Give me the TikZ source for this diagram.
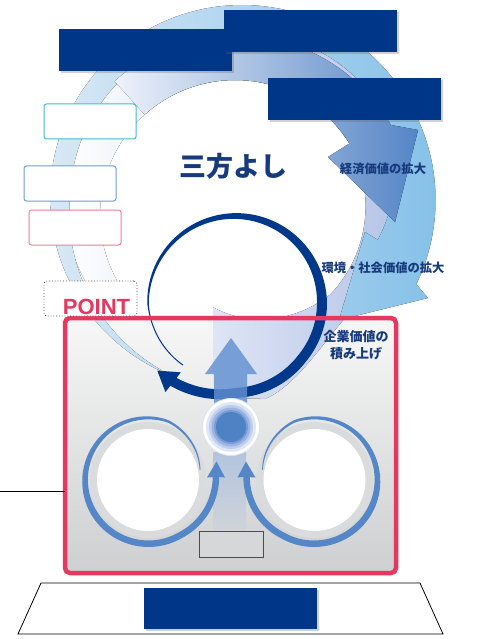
\documentclass[tikz,border=0pt]{standalone}
\usepackage{fontspec}
\setmainfont{Liberation Sans}
\newfontfamily\jp{Noto Sans CJK JP}
\usetikzlibrary{shadows}

\definecolor{navy}{RGB}{0,54,135}
\definecolor{navyarrow}{RGB}{0,56,140}
\definecolor{textnavy}{RGB}{22,58,124}
\definecolor{skyL}{RGB}{216,232,245}
\definecolor{skyM}{RGB}{196,222,242}
\definecolor{skyR}{RGB}{134,193,233}
\definecolor{lav}{RGB}{176,192,230}
\definecolor{lavpale}{RGB}{238,242,250}
\definecolor{arrowA}{RGB}{85,133,198}
\definecolor{pinkframe}{RGB}{230,55,95}
\definecolor{midblue}{RGB}{85,135,200}
\definecolor{upblue}{RGB}{98,144,208}
\definecolor{cyanline}{RGB}{64,188,207}
\definecolor{blueline}{RGB}{110,156,216}
\definecolor{pinkline}{RGB}{238,125,153}
\definecolor{boxtop}{RGB}{247,247,247}
\definecolor{boxbot}{RGB}{205,207,208}
\definecolor{coltop}{RGB}{178,196,222}
\definecolor{colbot}{RGB}{208,212,217}
\definecolor{ringgray}{RGB}{218,219,220}
\definecolor{smallfill}{RGB}{214,215,216}
\definecolor{coreedge}{RGB}{220,226,242}
\definecolor{coreA}{RGB}{223,230,246}
\definecolor{coreB}{RGB}{190,206,238}
\definecolor{coreC}{RGB}{155,180,226}
\definecolor{coreD}{RGB}{120,155,214}
\definecolor{coreE}{RGB}{79,129,197}

\tikzset{
  navybox/.style={fill=navy, minimum width=173pt, minimum height=42pt, inner sep=0pt,
    drop shadow={shadow xshift=2pt, shadow yshift=-2pt, opacity=.3, fill=black!60}},
  tagbox/.style={draw, fill=white, rounded corners=2.5pt, minimum width=92pt,
    minimum height=35pt, inner sep=0pt, line width=1pt},
  jplabel/.style={text=textnavy, font=\jp\bfseries\fontsize{12.3}{17}\selectfont, inner sep=0pt},
}

\begin{document}
\begin{tikzpicture}[x=1pt,y=-1pt,
  declare function={
    skyin(\t)= (\t<180) ? 191-19*(\t-115)/65 : ((\t<270) ? 172-7*(\t-180)/90 : ((\t<330) ? 165 : 165-22.6*(\t-330)/47.5));
    skyout(\t)= (\t<330) ? 192 : 192+3*(\t-330)/57;
    lavin(\t)= (\t<330) ? 135 : ((\t<400) ? 135-11*(\t-330)/70 : 124-29*(\t-400)/63);
    navyr(\t)= (\t<180) ? 81+6*(\t-130)/50 : ((\t<400) ? 87 : ((\t<450) ? 87+3*(\t-400)/50 : 90+10*(\t-450)/38));
    navyw(\t)= min(10, 1+9*max(0,\t-170)/190);
    ringr(\u)= (\u<60) ? 53+9*\u/60 : ((\u<290) ? 62+2*(\u-60)/230 : 64+4*(\u-290)/61.5);
    ringw(\u)= min(6.5, 0.8+5.7*\u/200);
  }]
\useasboundingbox (0,0) rectangle (478,639);

% ---- main panel background ----
\node[minimum width=331pt, minimum height=255pt, inner sep=0pt, outer sep=0pt,
      rounded corners=5pt, top color=boxtop, bottom color=boxbot] (frame) at (230.5,445.5) {};

% ---- inner lavender spiral band ----
\fill[left color=white, middle color=lav!28!white, right color=lav]
  plot[domain=145:395, samples=100, variable=\t] ({242+178*cos(\t)},{197+178*sin(\t)})
  -- (345,318) .. controls (318,350) and (295,385) .. (267,398) -- (213,400) -- (213,307)
  -- plot[domain=463:150, samples=120, variable=\t] ({235+lavin(\t)*cos(\t)},{215+lavin(\t)*sin(\t)})
  -- cycle;

% ---- outer sky spiral band ending in an arrowhead ----
\fill[left color=skyL, middle color=skyM, right color=skyR]
  plot[domain=115:386.6, samples=120, variable=\t] ({242+skyout(\t)*cos(\t)},{197+skyout(\t)*sin(\t)})
  -- (428,298) -- (339,320) -- (365,232)
  -- plot[domain=377.5:115, samples=120, variable=\t] ({242+skyin(\t)*cos(\t)},{197+skyin(\t)*sin(\t)})
  -- cycle;

% ---- economic value arrow ----
\fill[left color=lavpale, right color=arrowA]
  plot[domain=228:330, samples=80, variable=\t] ({235+180*cos(\t)},{215+180*sin(\t)})
  -- (418,130) -- (395,222) -- (328,157)
  -- plot[domain=328:228, samples=80, variable=\t] ({235+135*cos(\t)},{215+135*sin(\t)})
  -- cycle;

% ---- navy circular arrow ----
\fill[navyarrow]
  plot[domain=130:488, samples=160, variable=\t]
    ({235+(navyr(\t)+navyw(\t)/2)*cos(\t)},{303+(navyr(\t)+navyw(\t)/2)*sin(\t)})
  -- ({235+113*cos(488)},{303+113*sin(488)})
  -- ({235+103*cos(499)},{303+103*sin(499)})
  -- ({235+88*cos(488)},{303+88*sin(488)})
  -- plot[domain=488:130, samples=160, variable=\t]
    ({235+(navyr(\t)-navyw(\t)/2)*cos(\t)},{303+(navyr(\t)-navyw(\t)/2)*sin(\t)})
  -- cycle;

% ---- pale column below the core ----
\fill[top color=coltop, bottom color=colbot] (213,452) rectangle (246,532);

% ---- two circles with their rising arrows ----
\node[circle, fill=ringgray, minimum size=116pt, inner sep=0pt] (lring) at (148,480) {};
\node[circle, fill=white, minimum size=102pt, inner sep=0pt] (ldisk) at (148,480) {};
\node[circle, fill=ringgray, minimum size=116pt, inner sep=0pt] (rring) at (314.5,480) {};
\node[circle, fill=white, minimum size=102pt, inner sep=0pt] (rdisk) at (314.5,480) {};

\foreach \side in {1,-1}{
  \begin{scope}[shift={({231.25-231.25*\side},0)}, xscale=\side]
    \fill[midblue]
      plot[domain=0:351.5, samples=120, variable=\u]
        ({148+(ringr(\u)+ringw(\u)/2)*cos(349-\u)},{480+(ringr(\u)+ringw(\u)/2)*sin(349-\u)})
      -- (225,477.5) -- (216.5,461.5) -- (207,477.5)
      -- plot[domain=351.5:0, samples=120, variable=\u]
        ({148+(ringr(\u)-ringw(\u)/2)*cos(349-\u)},{480+(ringr(\u)-ringw(\u)/2)*sin(349-\u)})
      -- cycle;
  \end{scope}
}

% ---- upward arrow (navy ring shows through the shaft) ----
\fill[upblue, fill opacity=.82]
  (214,412) -- (214,374) -- (205,374) -- (231,338) -- (257,374) -- (247,374) -- (247,412) -- cycle;

% ---- glowing core ----
\node[circle, fill=white, draw=coreedge, line width=.8pt,
      minimum size=57pt, inner sep=0pt] (core) at (231,427) {};
\fill[coreA] (core.center) circle[radius=25];
\fill[coreB] (core.center) circle[radius=22];
\fill[coreC] (core.center) circle[radius=19.5];
\fill[coreD] (core.center) circle[radius=17];
\fill[coreE] (core.center) circle[radius=15];

% ---- small box in the panel ----
\node[draw=black!70, fill=smallfill, line width=.9pt,
      minimum width=64pt, minimum height=26pt, inner sep=0pt] (smallbox) at (231,544) {};

% ---- panel border and leader line ----
\draw[pinkframe, line width=4.5pt, rounded corners=5pt] (frame.north west) rectangle (frame.south east);
\coordinate (lstart) at (0,491);
\draw[line width=.9pt] (lstart) -- (lstart -| frame.west);

% ---- base plate ----
\draw[line width=.8pt, fill=white] (41,583) -- (420,583) -- (443,634) -- (18,634) -- cycle;

% ---- navy title bars ----
\node[navybox] (barA) at (145.5,50) {};
\node[navybox] (barB) at (310.5,31) {};
\node[navybox] (barC) at (354.5,99) {};
\node[navybox, minimum height=41pt] (barD) at (230.5,608.5) {};

% ---- tag boxes ----
\node[tagbox, draw=cyanline] (tagcyan) at (90,121.5) {};
\node[tagbox, draw=blueline] (tagblue) at (70,183.5) {};
\node[tagbox, draw=pinkline] (tagpink) at (75,227.5) {};
\node[tagbox, draw=black!75, line width=.8pt, dotted, rounded corners=3pt, minimum width=93pt] (tagpoint) at (90.5,298.5) {};
\node[text=pinkframe, font=\bfseries\fontsize{22}{22}\selectfont, anchor=base, inner sep=0pt] (point) at (96.5,314.5) {POINT};

% ---- labels ----
\node[text=textnavy, font=\jp\bfseries\fontsize{27}{27}\selectfont, inner sep=0pt] (sanpo) at (233,166) {三方よし};
\node[jplabel] (econ) at (383,169) {経済価値の拡大};
\node[jplabel] (envsoc) at (383,268) {環境・社会価値の拡大};
\node[jplabel, font=\jp\bfseries\fontsize{13}{17}\selectfont, align=center] (corp) at (356,345.5) {企業価値の\\積み上げ};
\end{tikzpicture}
\end{document}
